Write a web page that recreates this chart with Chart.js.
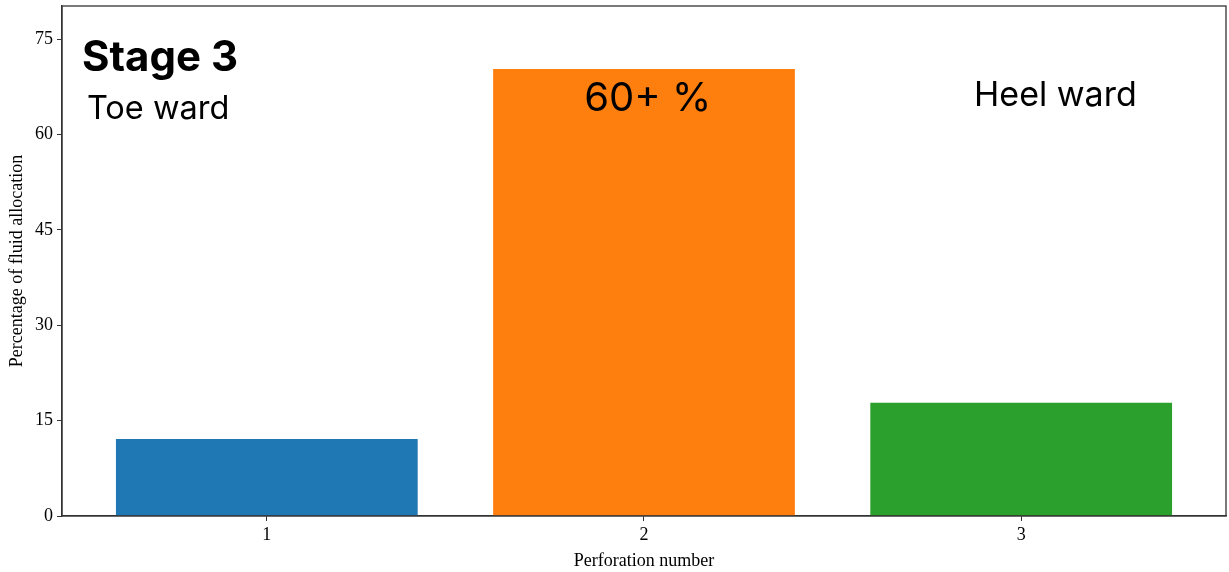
<!DOCTYPE html>
<html>
<head>
<meta charset="utf-8">
<script src="https://cdn.jsdelivr.net/npm/chart.js@4.4.0/dist/chart.umd.min.js"></script>
<style>
  html, body { margin: 0; padding: 0; background: #fff; }
  #wrap { width: 1229px; height: 572px; }
</style>
</head>
<body>
<div id="wrap"><canvas id="fluidChart" width="1229" height="572"></canvas></div>
<script>
// perforation data
const perforations = [1, 2, 3];
const allocation = [12.1, 70.3, 17.8];
const barColors = ['#1f77b4', '#ff7f0e', '#2ca02c'];
const yTicks = [0, 15, 30, 45, 60, 75];

// text notes placed in data coordinates
const notes = [
    { text: 'Stage 3', x: 0.51, y: 70.0, size: 42, weight: 'bold', align: 'left' },
    { text: 'Toe ward', x: 0.523, y: 62.4, size: 32.5, weight: 'normal', align: 'left' },
    { text: '60+ %', x: 2.01, y: 63.7, size: 40, weight: 'normal', align: 'center' },
    { text: 'Heel ward', x: 2.875, y: 64.5, size: 34, weight: 'normal', align: 'left' }
];

const serif = "'Liberation Serif', 'DejaVu Serif', serif";

document.addEventListener('DOMContentLoaded', () => {
    const ctx = document.getElementById('fluidChart').getContext('2d');

    const boxPlugin = {
        id: 'boxAndNotes',
        afterDatasetsDraw(chart) {
            const c = chart.ctx;
            const a = chart.chartArea;
            c.save();
            c.strokeStyle = '#333333';
            c.lineWidth = 1.3;
            c.strokeRect(a.left, a.top, a.right - a.left, a.bottom - a.top);
            const xs = chart.scales.x, ys = chart.scales.y;
            c.fillStyle = '#000';
            c.textBaseline = 'alphabetic';
            notes.forEach(n => {
                c.font = n.weight + ' ' + n.size + "px Inter, 'Noto Sans', sans-serif";
                c.textAlign = n.align;
                c.fillText(n.text, xs.getPixelForValue(n.x), ys.getPixelForValue(n.y));
            });
            c.restore();
        }
    };

    const data = {
        datasets: [{
            data: perforations.map((p, i) => ({ x: p, y: allocation[i] })),
            backgroundColor: barColors,
            borderWidth: 0,
            barPercentage: 0.8,
            categoryPercentage: 1.0
        }]
    };

    const config = {
        type: 'bar',
        data: data,
        options: {
            responsive: false,
            animation: false,
            layout: { padding: { top: 6, right: 3, left: 0, bottom: 0 } },
            plugins: {
                legend: { display: false },
                tooltip: { enabled: false }
            },
            scales: {
                x: {
                    type: 'linear',
                    min: 0.457,
                    max: 3.543,
                    offset: false,
                    afterBuildTicks: (scale) => {
                        scale.ticks = perforations.map(v => ({ value: v }));
                    },
                    afterFit: (scale) => {
                        scale.height = 56;
                        scale.paddingLeft = 0;
                        scale.paddingRight = 0;
                    },
                    grid: {
                        offset: false,
                        drawOnChartArea: false,
                        tickLength: 5,
                        color: '#333333',
                        tickWidth: 1
                    },
                    border: { color: '#333333', width: 1.3 },
                    ticks: {
                        color: '#000',
                        padding: 3,
                        maxRotation: 0,
                        font: { family: serif, size: 18 }
                    },
                    title: {
                        display: true,
                        text: 'Perforation number',
                        color: '#000',
                        padding: { top: 0, bottom: 0 },
                        font: { family: serif, size: 18 }
                    }
                },
                y: {
                    min: 0,
                    max: 80.2,
                    afterBuildTicks: (scale) => {
                        scale.ticks = yTicks.map(v => ({ value: v }));
                    },
                    afterFit: (scale) => {
                        scale.width = 62;
                        scale.paddingTop = 0;
                        scale.paddingBottom = 0;
                    },
                    grid: {
                        drawOnChartArea: false,
                        tickLength: 5,
                        color: '#333333',
                        tickWidth: 1
                    },
                    border: { color: '#333333', width: 1.3 },
                    ticks: {
                        color: '#000',
                        padding: 4,
                        font: { family: serif, size: 18 }
                    },
                    title: {
                        display: true,
                        text: 'Percentage of fluid allocation',
                        color: '#000',
                        padding: { top: 6, bottom: 0 },
                        font: { family: serif, size: 18 }
                    }
                }
            }
        },
        plugins: [boxPlugin]
    };

    const fluidChart = new Chart(ctx, config);
});
</script>
</body>
</html>
